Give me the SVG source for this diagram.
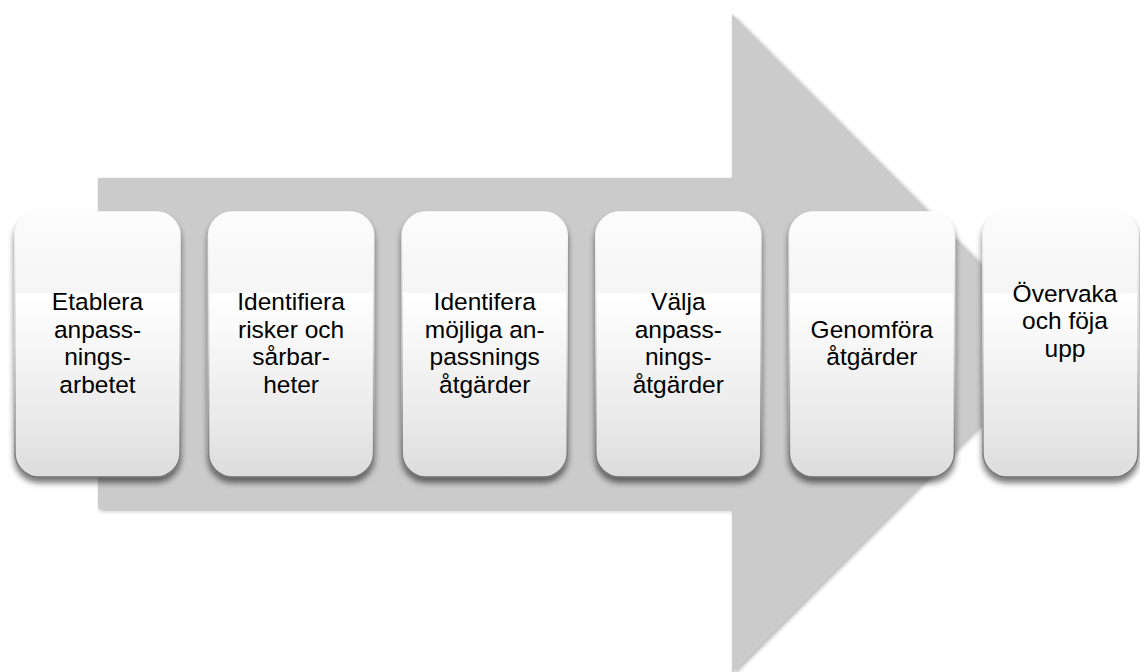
<svg xmlns="http://www.w3.org/2000/svg" width="1140" height="672" viewBox="0 0 1140 672">
<defs>
<linearGradient id="boxFill" x1="0" y1="0" x2="0" y2="1">
<stop offset="0" stop-color="#fcfcfc"/>
<stop offset="0.3" stop-color="#f5f5f5"/>
<stop offset="0.31" stop-color="#ffffff"/>
<stop offset="0.8" stop-color="#e9e9e9"/>
<stop offset="1" stop-color="#dcdcdc"/>
</linearGradient>
<linearGradient id="boxEdge" x1="0" y1="0" x2="0" y2="1">
<stop offset="0" stop-color="#ffffff"/>
<stop offset="0.5" stop-color="#d0d0d0"/>
<stop offset="1" stop-color="#6e6e6e"/>
</linearGradient>
<filter id="boxShadow" x="-10%" y="-10%" width="120%" height="125%">
<feGaussianBlur in="SourceAlpha" stdDeviation="3"/>
<feOffset dx="0" dy="5" result="b"/>
<feComponentTransfer><feFuncA type="linear" slope="0.55"/></feComponentTransfer>
<feMerge><feMergeNode/><feMergeNode in="SourceGraphic"/></feMerge>
</filter>
<filter id="arrowShadow" x="-5%" y="-5%" width="110%" height="110%">
<feGaussianBlur in="SourceAlpha" stdDeviation="2"/>
<feOffset dx="2" dy="2"/>
<feComponentTransfer><feFuncA type="linear" slope="0.3"/></feComponentTransfer>
<feMerge><feMergeNode/><feMergeNode in="SourceGraphic"/></feMerge>
</filter>
</defs>
<style>
.box{fill:url(#boxFill);stroke:url(#boxEdge);stroke-width:1.5;filter:url(#boxShadow)}
.lbl{font-family:"Liberation Sans",Arial,sans-serif;font-size:24.5px;fill:#000000;text-anchor:middle}
</style>
<g id="arrow">
<polygon points="98,178 732,178 732,14 1061,343.5 732,673 732,509 98,509" fill="#cbcbcb" filter="url(#arrowShadow)"/>
</g>
<g id="connectors"></g>
<g id="step1">
<rect class="box" x="15" y="212" width="165" height="265" rx="24" ry="24"/>
<text class="lbl" x="97.5"><tspan x="97.5" y="310.25">Etablera</tspan><tspan x="97.5" y="337.75">anpass-</tspan><tspan x="97.5" y="365.25">nings-</tspan><tspan x="97.5" y="392.75">arbetet</tspan></text>
</g>
<g id="step2">
<rect class="box" x="208.6" y="212" width="165" height="265" rx="24" ry="24"/>
<text class="lbl" x="291.1"><tspan x="291.1" y="310.25">Identifiera</tspan><tspan x="291.1" y="337.75">risker och</tspan><tspan x="291.1" y="365.25">sårbar-</tspan><tspan x="291.1" y="392.75">heter</tspan></text>
</g>
<g id="step3">
<rect class="box" x="402.2" y="212" width="165" height="265" rx="24" ry="24"/>
<text class="lbl" x="484.7"><tspan x="484.7" y="310.25">Identifera</tspan><tspan x="484.7" y="337.75">möjliga an-</tspan><tspan x="484.7" y="365.25">passnings</tspan><tspan x="484.7" y="392.75">åtgärder</tspan></text>
</g>
<g id="step4">
<rect class="box" x="595.8" y="212" width="165" height="265" rx="24" ry="24"/>
<text class="lbl" x="678.3"><tspan x="678.3" y="310.25">Välja</tspan><tspan x="678.3" y="337.75">anpass-</tspan><tspan x="678.3" y="365.25">nings-</tspan><tspan x="678.3" y="392.75">åtgärder</tspan></text>
</g>
<g id="step5">
<rect class="box" x="789.4" y="212" width="165" height="265" rx="24" ry="24"/>
<text class="lbl" x="871.9"><tspan x="871.9" y="337.75">Genomföra</tspan><tspan x="871.9" y="365.25">åtgärder</tspan></text>
</g>
<g id="step6">
<rect class="box" x="983" y="212" width="155" height="265" rx="24" ry="24"/>
<text class="lbl" x="1065"><tspan x="1065" y="301.5">Övervaka</tspan><tspan x="1065" y="329">och föja</tspan><tspan x="1065" y="356.5">upp</tspan></text>
</g>
</svg>
